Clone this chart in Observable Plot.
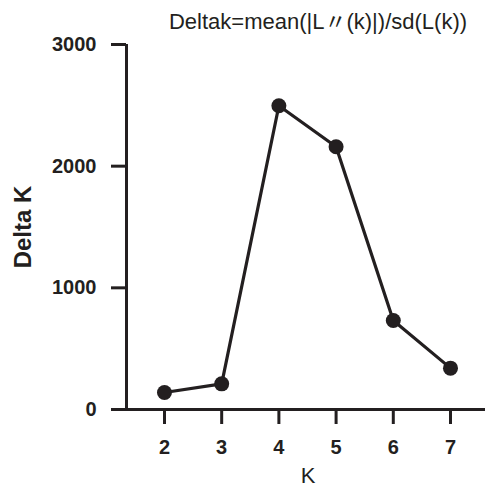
<!DOCTYPE html>
<html>
<head>
<meta charset="utf-8">
<script src="https://cdn.jsdelivr.net/npm/d3@7"></script>
<script src="https://cdn.jsdelivr.net/npm/@observablehq/plot@0.6"></script>
<style>
  html, body { margin: 0; padding: 0; background: #fff; }
  #chart { width: 486px; height: 488px; }
</style>
</head>
<body>
<div id="chart"></div>
<script>
const kValues = [2, 3, 4, 5, 6, 7];
const deltaK = [140, 211, 2497, 2160, 732, 340];
const xTicks = [2, 3, 4, 5, 6, 7];
const yTicks = [0, 1000, 2000, 3000];
const xDomain = [1.336, 7.612];
const yDomain = [0, 3000];
const titleText = "Deltak=mean(|L\u3003(k)|)/sd(L(k))";
const xLabel = "K";
const yLabel = "Delta K";

const data = kValues.map((k, i) => ({k, d: deltaK[i]}));
const ink = "#231f20";

const chart = Plot.plot({
  width: 486,
  height: 488,
  marginTop: 44,
  marginBottom: 79,
  marginLeft: 126,
  marginRight: 1,
  style: {fontFamily: "'Liberation Sans', Arial, 'Noto Sans CJK SC', sans-serif", background: "#fff", color: ink},
  x: {domain: xDomain},
  y: {domain: yDomain},
  marks: [
    Plot.axisX({ticks: xTicks, tickFormat: d3.format("d"), tickSize: 15, tickPadding: 15, strokeWidth: 3, stroke: ink, fill: ink, fontSize: 20, fontWeight: "bold", label: null}),
    Plot.axisY({ticks: yTicks, tickFormat: d3.format("d"), tickSize: 15, tickPadding: 15, strokeWidth: 3, stroke: ink, fill: ink, fontSize: 20, fontWeight: "bold", label: null}),
    Plot.ruleY([yDomain[0]], {stroke: ink, strokeWidth: 3, insetLeft: -15}),
    Plot.ruleX([xDomain[0]], {stroke: ink, strokeWidth: 3}),
    Plot.line(data, {x: "k", y: "d", stroke: ink, strokeWidth: 3.2}),
    Plot.dot(data, {x: "k", y: "d", r: 7.5, fill: ink, stroke: "none"}),
    Plot.text([yLabel], {frameAnchor: "left", dx: -103, rotate: -90, fontSize: 24, fontWeight: "bold", fill: ink, textAnchor: "middle", lineAnchor: "middle"}),
    Plot.text([xLabel], {frameAnchor: "bottom", dx: 2, dy: 66, fontSize: 22, fill: ink, textAnchor: "middle", lineAnchor: "middle"}),
    Plot.text([titleText], {frameAnchor: "top", dx: 12, dy: -16, fontSize: 22, fill: ink, textAnchor: "middle", lineAnchor: "bottom"})
  ]
});
document.getElementById("chart").appendChild(chart);
</script>
</body>
</html>
